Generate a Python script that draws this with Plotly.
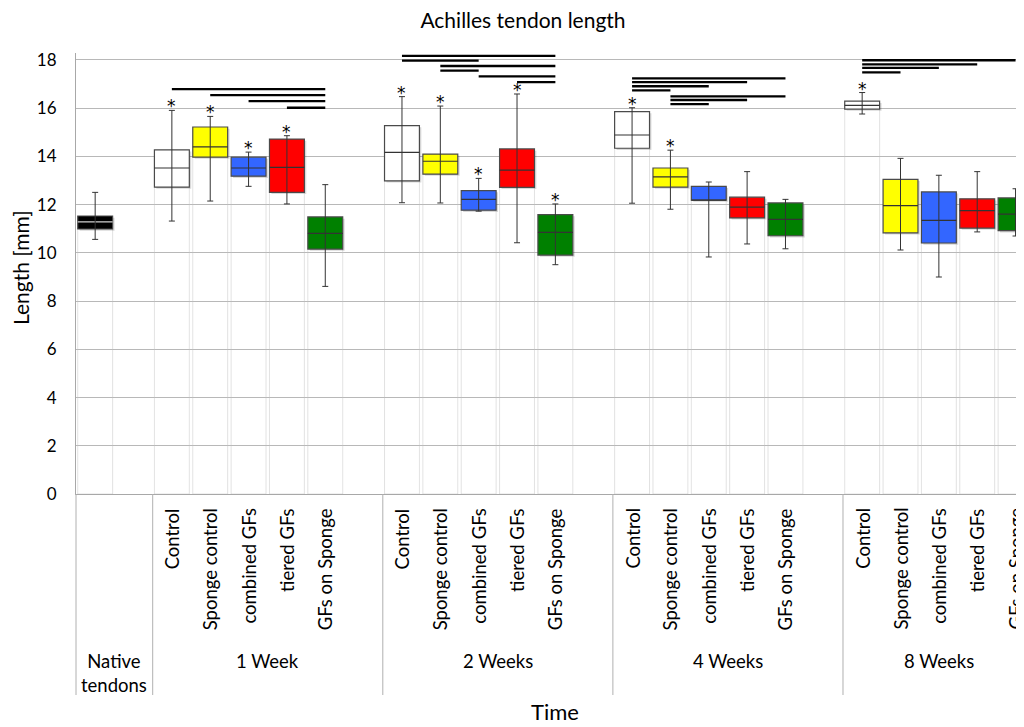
import plotly.graph_objects as go

# ---------------- data ----------------
groups = ["Native<br>tendons", "1 Week", "2 Weeks", "4 Weeks", "8 Weeks"]
treatments = ["Control", "Sponge control", "combined GFs", "tiered GFs", "GFs on Sponge"]
treat_colors = ["#FFFFFF", "#FFFF00", "#3366FF", "#FF0000", "#008000"]
native_color = "#000000"

# Native tendons
native_q1 = 10.99
native_med = 11.29
native_q3 = 11.53
native_lo = 10.56
native_hi = 12.51

# per week (rows) x treatment (cols)
q1 = [
    [12.73, 13.97, 13.18, 12.51, 10.16],
    [12.99, 13.27, 11.77, 12.72, 9.91],
    [14.34, 12.73, 12.19, 11.45, 10.71],
    [15.96, 10.83, 10.41, 11.03, 10.92],
]
median = [
    [13.52, 14.40, 13.52, 13.55, 10.81],
    [14.17, 13.80, 12.22, 13.43, 10.85],
    [14.89, 13.15, 12.19, 11.90, 11.39],
    [16.12, 11.96, 11.35, 11.75, 11.61],
]
q3 = [
    [14.27, 15.22, 13.97, 14.72, 11.49],
    [15.28, 14.10, 12.58, 14.31, 11.59],
    [15.86, 13.52, 12.76, 12.31, 12.07],
    [16.29, 13.05, 12.53, 12.24, 12.28],
]
whisk_lo = [
    [11.32, 12.15, 12.76, 12.03, 8.61],
    [12.08, 12.07, 11.73, 10.42, 9.51],
    [12.06, 11.81, 9.83, 10.37, 10.17],
    [15.76, 10.12, 9.00, 10.87, 10.70],
]
whisk_hi = [
    [15.91, 15.66, 14.18, 14.86, 12.83],
    [16.48, 16.09, 13.09, 16.59, 12.03],
    [16.02, 14.26, 12.94, 13.37, 12.22],
    [16.65, 13.92, 13.22, 13.37, 12.66],
]
stars = [
    [1, 1, 1, 1, 0],
    [1, 1, 1, 1, 1],
    [1, 1, 0, 0, 0],
    [1, 0, 0, 0, 0],
]
# significance bars: (week index, from treatment, to treatment, level)
sig_bars = [
    (0, 0, 4, 16.79), (0, 1, 4, 16.54), (0, 2, 4, 16.29), (0, 3, 4, 16.02),
    (1, 0, 4, 18.17), (1, 0, 2, 17.97), (1, 1, 4, 17.75), (1, 1, 2, 17.56),
    (1, 2, 4, 17.32), (1, 3, 4, 17.08),
    (2, 0, 4, 17.24), (2, 0, 3, 17.08), (2, 0, 2, 16.91), (2, 0, 1, 16.74),
    (2, 1, 4, 16.49), (2, 1, 3, 16.34), (2, 1, 2, 16.17),
    (3, 0, 4, 17.99), (3, 0, 3, 17.82), (3, 0, 2, 17.67), (3, 0, 1, 17.49),
]
y_ticks = [0, 2, 4, 6, 8, 10, 12, 14, 16, 18]

# ---------------- layout helpers ----------------
FONT = "Lato, 'Open Sans', sans-serif"
BW = 0.91
OFF = 8            # page body margin of the html page
FW, FH = 1024 - OFF, 727 - OFF


def xpos(w, t):
    return 2 + w * 6 + t


xs, b_q1, b_q3, b_med, b_lo, b_hi, b_col, b_star = [], [], [], [], [], [], [], []
xs.append(0)
b_q1.append(native_q1); b_q3.append(native_q3); b_med.append(native_med)
b_lo.append(native_lo); b_hi.append(native_hi); b_col.append(native_color); b_star.append(0)
for w in range(4):
    for t in range(5):
        xs.append(xpos(w, t))
        b_q1.append(q1[w][t]); b_q3.append(q3[w][t]); b_med.append(median[w][t])
        b_lo.append(whisk_lo[w][t]); b_hi.append(whisk_hi[w][t])
        b_col.append(treat_colors[t]); b_star.append(stars[w][t])

fig = go.Figure()

# faint base columns (invisible lower stack)
fig.add_trace(go.Bar(
    x=xs, y=b_q1, base=0, width=BW,
    marker=dict(color="rgba(0,0,0,0)", line=dict(color="rgba(190,190,190,0.45)", width=1)),
    hoverinfo="skip", showlegend=False))

# shadow
fig.add_trace(go.Bar(
    x=[x + 0.05 for x in xs], y=[b - a for a, b in zip(b_q1, b_q3)],
    base=[a - 0.07 for a in b_q1], width=BW,
    marker=dict(color="rgba(0,0,0,0.15)", line=dict(width=0)),
    hoverinfo="skip", showlegend=False))

# boxes
fig.add_trace(go.Bar(
    x=xs, y=[b - a for a, b in zip(b_q1, b_q3)], base=b_q1, width=BW,
    marker=dict(color=b_col, line=dict(color="#4a4a4a", width=1.2)),
    hoverinfo="skip", showlegend=False))

# median lines
mx, my = [], []
for x, m in zip(xs[1:], b_med[1:]):
    mx += [x - BW / 2, x + BW / 2, None]
    my += [m, m, None]
fig.add_trace(go.Scatter(x=mx, y=my, mode="lines", line=dict(color="#333333", width=1.2),
                         hoverinfo="skip", showlegend=False))
fig.add_trace(go.Scatter(x=[xs[0] - BW / 2, xs[0] + BW / 2], y=[b_med[0], b_med[0]], mode="lines",
                         line=dict(color="#d0d0d0", width=1.2), hoverinfo="skip", showlegend=False))

# whiskers
fig.add_trace(go.Scatter(
    x=xs, y=b_med, mode="markers", marker=dict(size=1, color="rgba(0,0,0,0)"),
    error_y=dict(type="data", symmetric=False,
                 array=[h - m for h, m in zip(b_hi, b_med)],
                 arrayminus=[m - l for m, l in zip(b_med, b_lo)],
                 color="#333333", thickness=1, width=3),
    hoverinfo="skip", showlegend=False))

# significance bars
sx, sy = [], []
for w, a, b, lev in sig_bars:
    sx += [xpos(w, a), xpos(w, b), None]
    sy += [lev, lev, None]
fig.add_trace(go.Scatter(x=sx, y=sy, mode="lines", line=dict(color="#000000", width=2.3),
                         hoverinfo="skip", showlegend=False))

# ---------------- axes & annotations ----------------
H = 441.0


def py(px):
    return (494 - px) / H


annotations = []
# significance stars above whiskers
for x, h, s in zip(xs, b_hi, b_star):
    if s:
        annotations.append(dict(x=x, xref="x", y=h, yref="y", text="*", showarrow=False,
                                xanchor="center", yanchor="middle", yshift=4,
                                font=dict(family="DejaVu Sans", size=17, color="#000")))

for w in range(4):
    for t in range(5):
        annotations.append(dict(x=xpos(w, t), xref="x", y=py(506), yref="paper",
                                text=treatments[t], textangle=-90, showarrow=False,
                                xanchor="center", yanchor="top",
                                font=dict(family=FONT, size=18.5, color="#000")))
group_x = [0.5, 4.5, 10.5, 16.5, 22.0]
for g, gx in zip(groups, group_x):
    yy = py(673) if "<br>" in g else py(661)
    annotations.append(dict(x=gx, xref="x", y=yy, yref="paper", text=g, showarrow=False,
                            xanchor="center", yanchor="middle",
                            font=dict(family=FONT, size=18.5, color="#000")))
annotations.append(dict(x=(555 - 76) / 948, xref="paper", y=py(711), yref="paper", text="Time",
                        showarrow=False, xanchor="center", yanchor="middle",
                        font=dict(family=FONT, size=22, color="#000")))
annotations.append(dict(x=(20 - 76) / 948, xref="paper", y=py(268), yref="paper", text="Length [mm]",
                        textangle=-90, showarrow=False, xanchor="center", yanchor="middle",
                        font=dict(family=FONT, size=21, color="#000")))

shapes = [dict(type="line", xref="paper", x0=0, x1=0, yref="paper", y0=0, y1=py(695),
               line=dict(color="#b0b0b0", width=1))]
for sep in [1.5, 7.5, 13.5, 19.5]:
    shapes.append(dict(type="line", xref="x", x0=sep, x1=sep, yref="paper", y0=0, y1=py(695),
                       line=dict(color="#b0b0b0", width=1)))

fig.update_layout(
    width=FW, height=FH,
    margin=dict(l=76 - OFF, r=0, t=53 - OFF, b=727 - 494),
    paper_bgcolor="white", plot_bgcolor="white",
    barmode="overlay",
    title=dict(text="Achilles tendon length", x=(523 - OFF) / FW, xanchor="center",
               y=1 - (21 - OFF) / FH, yanchor="middle", yref="container",
               font=dict(family=FONT, size=21, color="#000")),
    xaxis=dict(range=[-0.5, 24.22], showgrid=False, zeroline=False, showticklabels=False,
               ticks="", showline=True, linecolor="#a8a8a8", linewidth=1, fixedrange=True),
    yaxis=dict(range=[0, 18.29], tickvals=y_ticks, showgrid=True, gridcolor="#b8b8b8",
               zeroline=False, showline=True, linecolor="#a8a8a8", linewidth=1, ticks="",
               ticklabelstandoff=15, tickfont=dict(family=FONT, size=17, color="#000")),
    annotations=annotations, shapes=shapes,
    showlegend=False,
)

fig.write_html("out.html")
